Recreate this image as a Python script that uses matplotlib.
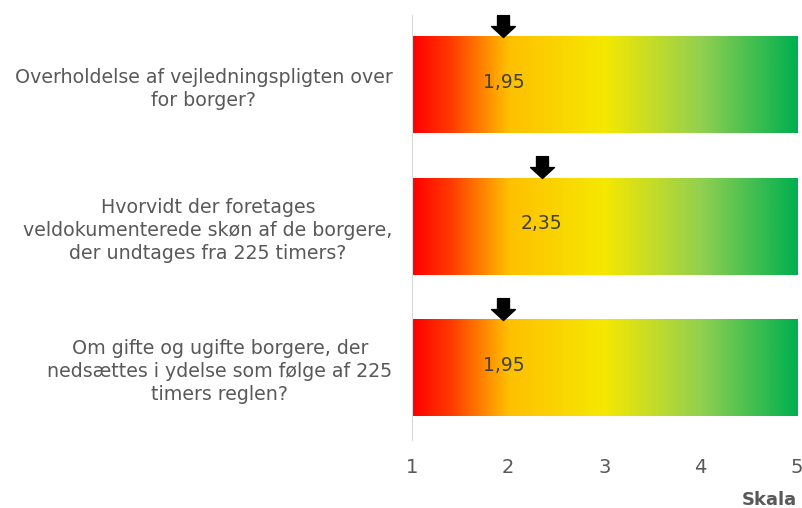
import numpy as np
import matplotlib
matplotlib.use("Agg")
import matplotlib.pyplot as plt
from matplotlib.colors import LinearSegmentedColormap
from matplotlib.path import Path

# Spørgsmål og gennemsnitlig score på skalaen 1-5
questions = [
    "Overholdelse af vejledningspligten over\nfor borger?",
    "Hvorvidt der foretages\nveldokumenterede skøn af de borgere,\nder undtages fra 225 timers?",
    "Om gifte og ugifte borgere, der\nnedsættes i ydelse som følge af 225\ntimers reglen?",
]
scores = [1.95, 2.35, 1.95]
score_labels = ["1,95", "2,35", "1,95"]
scale_ticks = [1, 2, 3, 4, 5]

plt.rcParams['font.family'] = ['DejaVu Sans']

# farveforløb rød -> gul -> grøn
cmap = LinearSegmentedColormap.from_list(
    "skala",
    [(0.0, "#ff0000"), (0.1, "#ff3c00"), (0.25, "#ffc000"),
     (0.5, "#f5e800"), (0.75, "#92d050"), (1.0, "#00b050")])

fig = plt.figure(figsize=(8.03, 5.08), dpi=100)
ax = fig.add_axes([0.513, 0.134, 0.4795, 0.836])

bar_h = 0.68
grad = np.linspace(0, 1, 400).reshape(1, -1)
ypos = np.arange(len(questions))
for y in ypos:
    ax.imshow(grad, cmap=cmap, aspect='auto', interpolation='bilinear',
              extent=(1, 5, y + bar_h / 2, y - bar_h / 2), zorder=1)

# pil der peger ned på scoren
arrow = Path([(-6, 22), (6, 22), (6, 11), (12, 11), (0, 0),
              (-12, 11), (-6, 11), (-6, 22)], closed=True)
for y, s, lab in zip(ypos, scores, score_labels):
    ax.plot(s, y - bar_h / 2, marker=arrow, markersize=31.5,
            color='black', linestyle='none', zorder=3, clip_on=False)
    ax.text(s, y - 0.02, lab, ha='center', va='center',
            fontsize=13.5, color='#404040', zorder=4)

ax.set_xlim(1, 5)
ax.set_ylim(2.51, -0.495)
ax.set_xticks(scale_ticks)
ax.set_xticklabels([str(t) for t in scale_ticks])
ax.set_yticks(ypos)
ax.set_yticklabels(questions, multialignment='center', linespacing=1.25)
ax.tick_params(axis='x', length=0, pad=13, labelsize=14, labelcolor='#595959')
ax.tick_params(axis='y', length=0, pad=14, labelsize=13.7, labelcolor='#595959')

for side in ['top', 'right', 'bottom']:
    ax.spines[side].set_visible(False)
ax.spines['left'].set_color('#d9d9d9')

fig.text(0.9925, 0.016, "Skala", ha='right', va='center',
         fontsize=13, fontweight='bold', color='#595959')

fig.savefig("out.png", dpi=100)
